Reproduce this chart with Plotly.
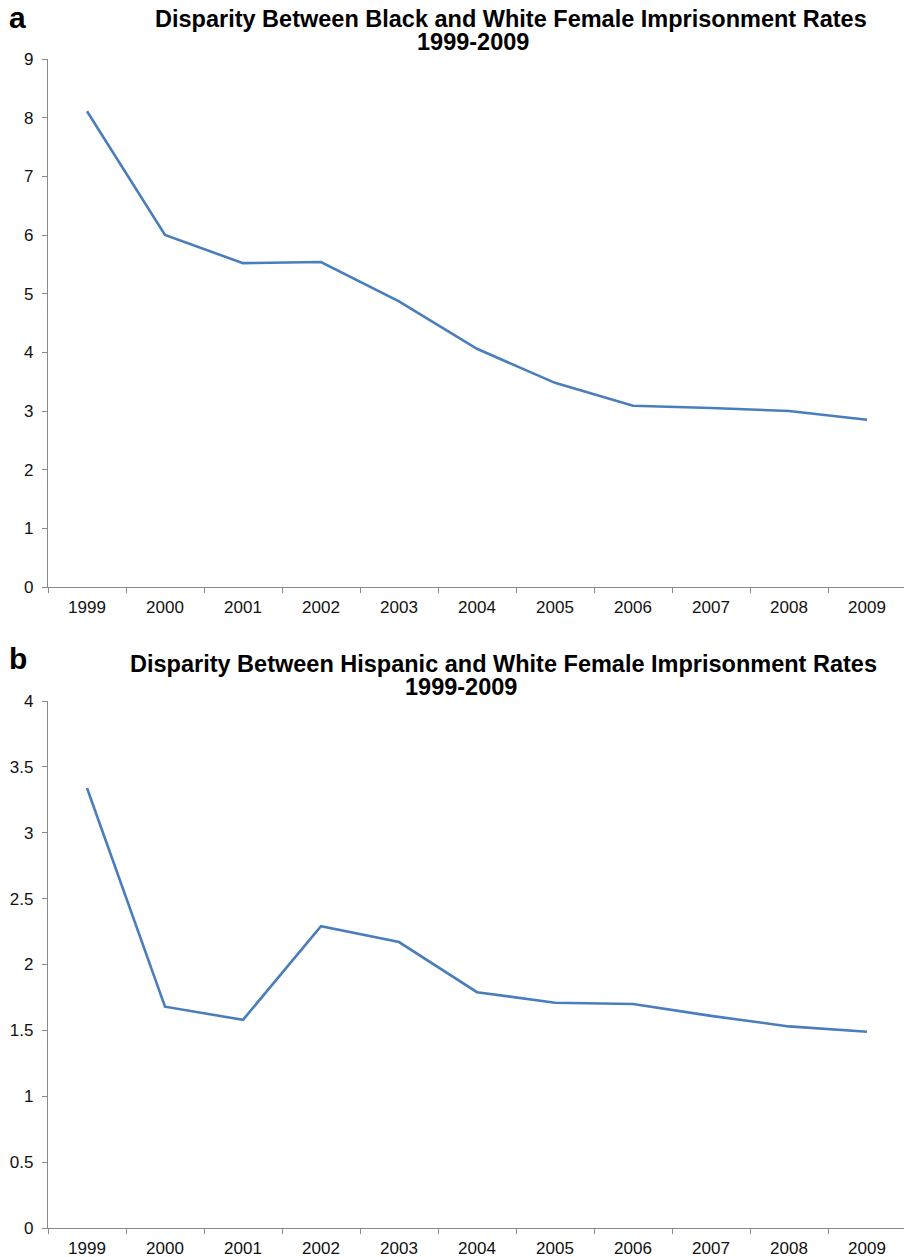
import plotly.graph_objects as go

years = ["1999", "2000", "2001", "2002", "2003", "2004", "2005", "2006", "2007", "2008", "2009"]
black_white = [8.11, 6.00, 5.52, 5.54, 4.87, 4.06, 3.48, 3.09, 3.05, 3.00, 2.85]
hispanic_white = [3.34, 1.68, 1.58, 2.29, 2.17, 1.79, 1.71, 1.70, 1.61, 1.53, 1.49]

title_a_1 = "Disparity Between Black and White Female Imprisonment Rates"
title_b_1 = "Disparity Between Hispanic and White Female Imprisonment Rates"
title_2 = "1999-2009"

# the page body has an 8px margin, so the figure is drawn 8px in from the top-left corner
OFF = 8
W, H = 912 - OFF, 1257 - OFF
LINE = "#4a7ebb"
AX = "#8a8a8a"
FONT = "Liberation Sans, Arial, sans-serif"

def fx(px):
    return (px - OFF) / W

def fy(px):
    return 1 - (px - OFF) / H

fig = go.Figure()
fig.add_trace(go.Scatter(x=years, y=black_white, mode="lines", line=dict(color=LINE, width=2.6),
                         xaxis="x", yaxis="y", showlegend=False))
fig.add_trace(go.Scatter(x=years, y=hispanic_white, mode="lines", line=dict(color=LINE, width=2.6),
                         xaxis="x2", yaxis="y2", showlegend=False))

xcommon = dict(type="category", range=[-0.5, 10.5], showline=True, linecolor=AX, linewidth=1.2,
               ticks="outside", tickson="boundaries", ticklen=5, tickcolor=AX, showgrid=False,
               zeroline=False, tickfont=dict(size=17, color="#111", family=FONT), domain=[fx(48), fx(906)],
               ticklabelstandoff=4, automargin=False, fixedrange=True)
ycommon = dict(showline=True, linecolor=AX, linewidth=1.2, ticks="outside", ticklen=5, tickcolor=AX,
               showgrid=False, zeroline=False, automargin=False, ticklabelstandoff=5,
               tickfont=dict(size=17, color="#111", family=FONT))

def ann(text, x, y, size, xanchor="center"):
    return dict(text="<b>" + text + "</b>", x=fx(x), y=fy(y), xref="paper", yref="paper",
                xanchor=xanchor, yanchor="middle", showarrow=False,
                font=dict(size=size, color="black", family=FONT))

fig.update_layout(
    width=W, height=H, margin=dict(l=0, r=0, t=0, b=0, autoexpand=False),
    paper_bgcolor="white", plot_bgcolor="white",
    font=dict(family=FONT),
    xaxis=dict(xcommon, anchor="y"),
    yaxis=dict(ycommon, range=[0, 9], dtick=1, domain=[fy(587), fy(59)], anchor="x"),
    xaxis2=dict(xcommon, anchor="y2"),
    yaxis2=dict(ycommon, range=[0, 4], dtick=0.5, domain=[fy(1228), fy(701)], anchor="x2"),
    annotations=[
        ann(title_a_1, 511.5, 18.5, 23.5),
        ann(title_2, 473.5, 41.5, 23.5),
        ann(title_b_1, 503, 664, 23.5),
        ann(title_2, 461, 686.5, 23.5),
        ann("a", 7, 17.5, 30, xanchor="left"),
        ann("b", 7, 658, 30, xanchor="left"),
    ],
)

fig.write_html("out.html")
